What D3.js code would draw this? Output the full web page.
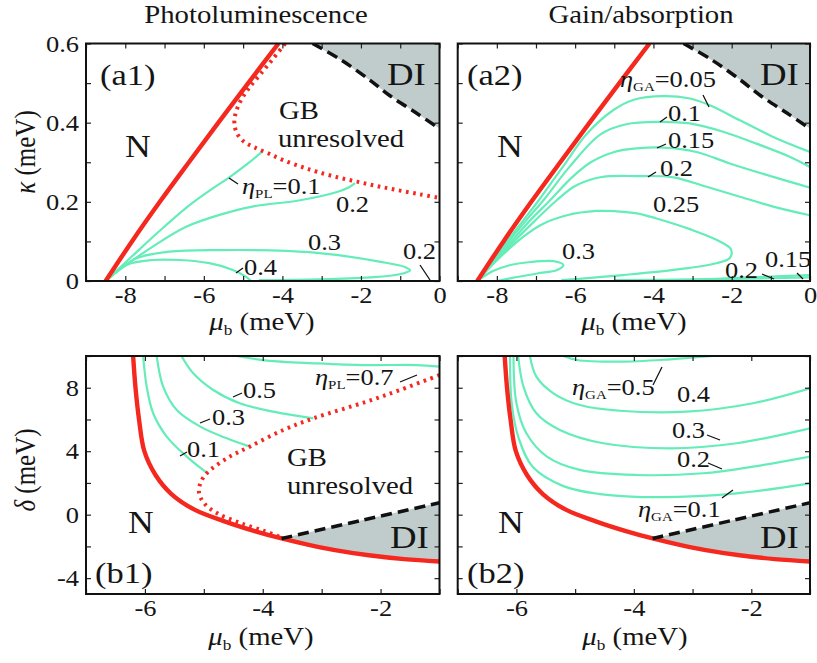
<!DOCTYPE html>
<html>
<head>
<meta charset="UTF-8">
<title>PL / gain phase diagram</title>
<script src="https://d3js.org/d3.v7.min.js"></script>
<style>
    body { margin: 0; background: #fff; }
    svg text { font-family: 'Liberation Serif', 'Times New Roman', 'DejaVu Serif', serif; fill: #151515; }
</style>
</head>
<body>
<svg id="fig" width="817" height="663"></svg>
<script>
// ---- axes ----
const aXDomain = [-9, 0], aYDomain = [0, 0.6];
const bXDomain = [-7, -1], bYDomain = [-5, 10];
const aXTicks = [-9, -8, -7, -6, -5, -4, -3, -2, -1, 0];
const aXLabels = [-8, -6, -4, -2, 0];
const aYTicks = [0, 0.1, 0.2, 0.3, 0.4, 0.5, 0.6];
const aYLabels = [0, 0.2, 0.4, 0.6];
const bXTicks = [-7, -6, -5, -4, -3, -2, -1];
const bXLabels = [-6, -4, -2];
const bYTicks = [-4, -2, 0, 2, 4, 6, 8, 10];
const bYLabels = [-4, 0, 4, 8];

// ---- (a) kappa vs mu_b ----
const aNormal = [[-8.5, 0], [-7.83, 0.1], [-7.12, 0.2], [-6.38, 0.3], [-5.63, 0.4], [-4.87, 0.5], [-4.1, 0.6]];
const aDI = [[-3.23, 0.6], [-2.5, 0.558], [-1.78, 0.508], [-1.26, 0.468], [-0.6, 0.425], [0, 0.385]];
const a1Unresolved = [[-3.93, 0.6], [-4.25, 0.56], [-4.58, 0.52], [-4.87, 0.485], [-5.08, 0.452], [-5.2, 0.42],
    [-5.22, 0.395], [-5.15, 0.372], [-4.98, 0.352], [-4.72, 0.338], [-4.35, 0.322], [-3.97, 0.305],
    [-3.5, 0.288], [-3.12, 0.276], [-2.6, 0.262], [-2.1, 0.251], [-1.6, 0.24], [-1.09, 0.23], [-0.5, 0.219], [0, 0.21]];
const a1PL01 = [[-8.5, 0], [-7.8, 0.065], [-7.2, 0.12], [-6.45, 0.185], [-5.8, 0.232], [-5.35, 0.262], [-4.9, 0.295], [-4.5, 0.328]];
const a1PL02 = [[-8.5, 0], [-8.15, 0.028], [-7.3, 0.087], [-6.45, 0.137], [-5.6, 0.167], [-4.76, 0.188],
    [-3.55, 0.204], [-2.61, 0.225], [-2.3, 0.237], [-2.15, 0.247]];
const a1PL03 = [[-8.5, 0], [-8.0, 0.04], [-7.73, 0.057], [-6.88, 0.074], [-5.6, 0.078], [-3.9, 0.076], [-2.63, 0.066],
    [-1.53, 0.049], [-0.9, 0.036], [-0.75, 0.027], [-1.02, 0.017], [-1.78, 0.009], [-3.06, 0.004], [-4.6, 0.002]];
const a1PL04 = [[-8.5, 0], [-7.98, 0.04], [-7.3, 0.053], [-6.62, 0.053], [-5.86, 0.045], [-5.26, 0.028], [-4.93, 0.011], [-4.8, 0]];
const a2GA005 = [[-8.5, 0], [-8.2, 0.04], [-7.78, 0.095], [-7.35, 0.15], [-6.93, 0.204], [-6.31, 0.289], [-5.7, 0.372],
    [-5.02, 0.432], [-4.5, 0.458], [-3.75, 0.467], [-3.07, 0.461], [-2.56, 0.444], [-1.79, 0.406], [-0.94, 0.364], [0, 0.326]];
const a2GA010 = [[-8.5, 0], [-8.18, 0.04], [-7.73, 0.095], [-7.28, 0.15], [-6.81, 0.204], [-6.14, 0.289], [-5.36, 0.37],
    [-4.7, 0.396], [-3.83, 0.402], [-3.07, 0.398], [-2.22, 0.377], [-1.37, 0.347], [-0.52, 0.314], [0, 0.288]];
const a2GA015 = [[-8.5, 0], [-8.16, 0.04], [-7.67, 0.095], [-7.18, 0.15], [-6.64, 0.204], [-6.1, 0.26], [-5.6, 0.3],
    [-5.0, 0.326], [-4.42, 0.335], [-3.75, 0.337], [-2.9, 0.326], [-2.05, 0.297], [-0.94, 0.263], [0, 0.236]];
const a2GA020 = [[-8.5, 0], [-8.13, 0.04], [-7.61, 0.095], [-7.05, 0.15], [-6.47, 0.204], [-6.0, 0.24], [-5.36, 0.262],
    [-4.42, 0.265], [-3.49, 0.262], [-2.64, 0.238], [-1.79, 0.213], [-0.94, 0.188], [0, 0.166]];
const a2GA025 = [[-8.5, 0], [-8.34, 0.019], [-7.91, 0.061], [-7.53, 0.095], [-7.32, 0.112], [-6.89, 0.141], [-6.21, 0.166],
    [-5.45, 0.177], [-4.94, 0.176], [-4.42, 0.171], [-3.92, 0.158], [-3.07, 0.131], [-2.39, 0.104], [-2.02, 0.08],
    [-2.05, 0.058], [-2.39, 0.045], [-3.49, 0.028], [-4.78, 0.015], [-5.6, 0.008], [-6.35, 0.002]];
const a2GA030 = [[-8.5, 0], [-8.1, 0.025], [-7.74, 0.038], [-7.14, 0.048], [-6.55, 0.05], [-6.3, 0.04], [-6.46, 0.028],
    [-6.97, 0.019], [-7.6, 0.008], [-8.0, 0]];
const a2GA020low = [[-5.0, 0.002], [-3, 0.004], [-1, 0.007], [0, 0.009]];
const a2GA015low = [[-3.0, 0.003], [-1.5, 0.009], [0, 0.015]];

// ---- (b) delta vs mu_b ----
const bNormal = [[-6.2, 10], [-6.16, 8], [-6.1, 6], [-6.01, 4], [-5.82, 2.5], [-5.55, 1.3], [-5.15, 0.3], [-4.65, -0.42],
    [-4.15, -1.02], [-3.68, -1.5], [-3.2, -1.92], [-2.8, -2.22], [-2.2, -2.56], [-1.6, -2.8], [-1.0, -2.95]];
const bDI = [[-3.68, -1.5], [-2.3, -0.34], [-1.0, 0.75]];
const b1Unresolved = [[-1.0, 8.8], [-1.67, 7.86], [-2.24, 7.12], [-3.14, 6.07], [-3.65, 5.34], [-4.22, 4.29], [-4.61, 3.55],
    [-4.95, 2.61], [-5.06, 1.97], [-5.08, 1.34], [-4.99, 0.7], [-4.78, 0.1], [-4.4, -0.5], [-3.98, -1.02], [-3.68, -1.44]];
const b1PL01 = [[-6.03, 10], [-5.97, 8.07], [-5.86, 6.39], [-5.63, 4.92], [-5.29, 3.66], [-4.92, 2.56]];
const b1PL03 = [[-5.8, 10], [-5.69, 8.07], [-5.46, 6.6], [-5.06, 5.55], [-4.61, 4.81], [-4.22, 4.29]];
const b1PL05 = [[-5.38, 10], [-5.18, 8.91], [-4.84, 7.86], [-4.39, 7.02], [-3.82, 6.49], [-3.14, 6.07]];
const b1PL07 = [[-4.44, 10], [-3.93, 9.71], [-3.08, 9.54], [-2.24, 9.43], [-1.39, 9.43], [-1.0, 9.33]];
const b2GA01 = [[-6.11, 10], [-6.08, 7.02], [-5.96, 4.8], [-5.72, 3.0], [-5.2, 1.8], [-4.58, 1.3], [-3.57, 1.1],
    [-2.25, 1.34], [-1.0, 1.97]];
const b2GA02 = [[-6.05, 10], [-6.0, 7.02], [-5.83, 5.13], [-5.48, 3.66], [-4.92, 2.82], [-3.95, 2.5], [-2.82, 2.61],
    [-1.97, 3.03], [-1.0, 3.66]];
const b2GA03 = [[-5.97, 10], [-5.88, 8.07], [-5.66, 6.39], [-5.26, 5.34], [-4.52, 4.5], [-3.38, 4.18], [-2.25, 4.5], [-1.0, 5.44]];
const b2GA04 = [[-5.77, 10], [-5.66, 8.7], [-5.37, 7.65], [-4.92, 6.91], [-4.24, 6.55], [-3.1, 6.49], [-1.97, 7.02], [-1.0, 7.96]];
const b2GA05 = [[-5.2, 10], [-4.97, 9.75], [-4.24, 9.64], [-3.38, 9.79], [-2.65, 10]];

const RED = "#f4281e", GREEN = "#64edb9", GRAY = "#c0cccb";
const SX = 1.15; // the figure's glyphs are a little wide

const svg = d3.select("#fig");

function txt(x, y, size, anchor) {
    return svg.append("text")
        .attr("transform", `translate(${x},${y}) scale(${SX},1)`)
        .attr("font-size", size)
        .attr("text-anchor", anchor || "start");
}

function leader(x1, y1, x2, y2) {
    svg.append("line").attr("x1", x1).attr("y1", y1).attr("x2", x2).attr("y2", y2)
        .attr("stroke", "#111").attr("stroke-width", 1.3);
}

function panel(id, box, xd, yd, xt, xl, yt, yl, showY) {
    const x = d3.scaleLinear().domain(xd).range([box.l, box.r]);
    const y = d3.scaleLinear().domain(yd).range([box.b, box.t]);
    svg.append("clipPath").attr("id", "clip-" + id)
        .append("rect").attr("x", box.l).attr("y", box.t).attr("width", box.r - box.l).attr("height", box.b - box.t);
    const g = svg.append("g").attr("clip-path", `url(#clip-${id})`);
    const line = d3.line().x(d => x(d[0])).y(d => y(d[1])).curve(d3.curveCatmullRom.alpha(0.5));
    const poly = d3.line().x(d => x(d[0])).y(d => y(d[1]));

    const fmt = labels => d => labels.includes(d) ? String(d) : "";
    const axes = svg.append("g");
    const bottom = axes.append("g").attr("transform", `translate(0,${box.b})`)
        .call(d3.axisBottom(x).tickValues(xt).tickSize(-5).tickFormat(fmt(xl)));
    axes.append("g").attr("transform", `translate(0,${box.t})`)
        .call(d3.axisTop(x).tickValues(xt).tickSize(-5).tickFormat(""));
    const left = axes.append("g").attr("transform", `translate(${box.l},0)`)
        .call(d3.axisLeft(y).tickValues(yt).tickSize(-5).tickFormat(showY ? fmt(yl) : ""));
    axes.append("g").attr("transform", `translate(${box.r},0)`)
        .call(d3.axisRight(y).tickValues(yt).tickSize(-5).tickFormat(""));
    axes.selectAll(".domain").remove();
    axes.selectAll(".tick line").attr("stroke", "#222").attr("stroke-width", 1.2);
    axes.selectAll("text").attr("font-size", 23).attr("fill", "#151515")
        .attr("font-family", "'Liberation Serif', 'Times New Roman', 'DejaVu Serif', serif");
    bottom.selectAll("text").each(function () {
        d3.select(this).attr("x", 0).attr("y", 0).attr("dy", 0).attr("transform", `translate(0,22) scale(${SX},1)`);
    });
    left.selectAll("text").each(function () {
        d3.select(this).attr("x", 0).attr("y", 0).attr("dy", "0.33em").attr("transform", `translate(-7,0) scale(${SX},1)`);
    });

    return {x, y, g, line, poly, axes};
}

function stroke(p, data, color, width, dash) {
    const path = p.g.append("path").datum(data).attr("d", p.line)
        .attr("fill", "none").attr("stroke", color).attr("stroke-width", width);
    if (dash) path.attr("stroke-dasharray", dash);
    return path;
}

const colA = {l: 86, r: 439.5}, colB = {l: 457.7, r: 810};
const rowA = {t: 43.5, b: 281}, rowB = {t: 356, b: 594};

// ---------- (a1) ----------
const a1 = panel("a1", {...colA, ...rowA}, aXDomain, aYDomain, aXTicks, aXLabels, aYTicks, aYLabels, true);
a1.g.append("path").datum(aDI.concat([[0, 0.6]])).attr("d", a1.poly).attr("fill", GRAY);
[a1PL01, a1PL02, a1PL03, a1PL04].forEach(d => stroke(a1, d, GREEN, 2.2));
stroke(a1, a1Unresolved, RED, 4, "2.6,4.6");
stroke(a1, aNormal, RED, 4.4);
stroke(a1, aDI, "#111", 3.5, "11,6");

// ---------- (a2) ----------
const a2 = panel("a2", {...colB, ...rowA}, aXDomain, aYDomain, aXTicks, aXLabels, aYTicks, aYLabels, false);
a2.g.append("path").datum(aDI.concat([[0, 0.6]])).attr("d", a2.poly).attr("fill", GRAY);
[a2GA005, a2GA010, a2GA015, a2GA020, a2GA025, a2GA030, a2GA020low, a2GA015low].forEach(d => stroke(a2, d, GREEN, 2.2));
stroke(a2, aNormal, RED, 4.4);
stroke(a2, aDI, "#111", 3.5, "11,6");

// ---------- (b1) ----------
const bDIarea = bDI.concat(bNormal.filter(d => d[0] >= -3.68).reverse());
const b1 = panel("b1", {...colA, ...rowB}, bXDomain, bYDomain, bXTicks, bXLabels, bYTicks, bYLabels, true);
b1.g.append("path").datum(bDIarea).attr("d", b1.poly).attr("fill", GRAY);
[b1PL01, b1PL03, b1PL05, b1PL07].forEach(d => stroke(b1, d, GREEN, 2.2));
stroke(b1, b1Unresolved, RED, 4, "2.6,4.6");
stroke(b1, bNormal, RED, 4.4);
stroke(b1, bDI, "#111", 3.5, "11,6");

// ---------- (b2) ----------
const b2 = panel("b2", {...colB, ...rowB}, bXDomain, bYDomain, bXTicks, bXLabels, bYTicks, bYLabels, false);
b2.g.append("path").datum(bDIarea).attr("d", b2.poly).attr("fill", GRAY);
[b2GA01, b2GA02, b2GA03, b2GA04, b2GA05].forEach(d => stroke(b2, d, GREEN, 2.2));
stroke(b2, bNormal, RED, 4.4);
stroke(b2, bDI, "#111", 3.5, "11,6");

// frames
[[colA, rowA], [colB, rowA], [colA, rowB], [colB, rowB]].forEach(([c, r]) => {
    svg.append("rect").attr("x", c.l).attr("y", r.t).attr("width", c.r - c.l).attr("height", r.b - r.t)
        .attr("fill", "none").attr("stroke", "#111").attr("stroke-width", 2);
});

// titles and axis names
txt(256, 23, 25, "middle").text("Photoluminescence");
txt(641, 23, 25, "middle").text("Gain/absorption");

function muLabel(x, y) {
    const t = txt(x, y, 25, "middle");
    t.append("tspan").attr("font-style", "italic").text("μ");
    t.append("tspan").attr("font-size", 15).attr("dy", 5).text("b");
    t.append("tspan").attr("dy", -5).text(" (meV)");
}
muLabel(262, 330); muLabel(634, 330); muLabel(261, 645); muLabel(635, 645);

function yName(sym, cy) {
    const t = svg.append("text").attr("font-size", 25).attr("text-anchor", "middle")
        .attr("transform", `translate(35,${cy}) scale(${SX},1) rotate(-90)`);
    t.append("tspan").attr("font-style", "italic").text(sym);
    t.append("tspan").text("  (meV)");
}
yName("κ", 152);
yName("δ", 470);

function eta(x, y, sub, val) {
    const t = txt(x, y, 23);
    t.append("tspan").attr("font-style", "italic").text("η");
    t.append("tspan").attr("font-size", 13).attr("dy", 4).text(sub);
    t.append("tspan").attr("dy", -4).text("=" + val);
}

// a1 annotations
txt(100, 85, 30).text("(a1)");
txt(125, 157, 31).text("N");
txt(387, 85, 32).text("DI");
txt(279, 119, 25).text("GB");
txt(278, 147, 25).text("unresolved");
eta(242, 194, "PL", "0.1"); leader(229, 178, 238, 184);
txt(336, 212, 23).text("0.2");
txt(308, 250, 23).text("0.3");
txt(244, 275, 23).text("0.4"); leader(236, 273, 243, 268);
txt(403, 259, 23).text("0.2"); leader(420, 265, 430, 280);

// a2 annotations
txt(467, 85, 30).text("(a2)");
txt(497, 157, 31).text("N");
txt(760, 85, 32).text("DI");
eta(620, 87, "GA", "0.05"); leader(703, 95, 709, 107);
txt(668, 121, 23).text("0.1"); leader(660, 122, 667, 117);
txt(668, 148, 23).text("0.15"); leader(657, 148, 666, 144);
txt(660, 176, 23).text("0.2"); leader(648, 177, 656, 172);
txt(653, 212, 23).text("0.25");
txt(562, 259, 23).text("0.3");
txt(725, 278, 23).text("0.2"); leader(762, 274, 774, 279);
txt(765, 267, 23).text("0.15"); leader(797, 273, 803, 279);

// b1 annotations
txt(95, 583, 30).text("(b1)");
txt(128, 533, 31).text("N");
txt(390, 548, 32).text("DI");
txt(287, 466, 25).text("GB");
txt(287, 494, 25).text("unresolved");
eta(315, 385, "PL", "0.7"); leader(400, 382, 417, 375);
txt(243, 398, 23).text("0.5"); leader(233, 397, 242, 393);
txt(212, 425, 23).text("0.3"); leader(200, 423, 210, 419);
txt(187, 457, 23).text("0.1"); leader(180, 456, 187, 452);

// b2 annotations
txt(467, 583, 30).text("(b2)");
txt(498, 533, 31).text("N");
txt(760, 548, 32).text("DI");
eta(572, 395, "GA", "0.5"); leader(653, 385, 662, 367);
txt(677, 402, 23).text("0.4");
txt(672, 438, 23).text("0.3"); leader(707, 435, 720, 440);
txt(677, 467, 23).text("0.2"); leader(708, 463, 722, 469);
eta(638, 517, "GA", "0.1"); leader(722, 498, 733, 490);
</script>
</body>
</html>
